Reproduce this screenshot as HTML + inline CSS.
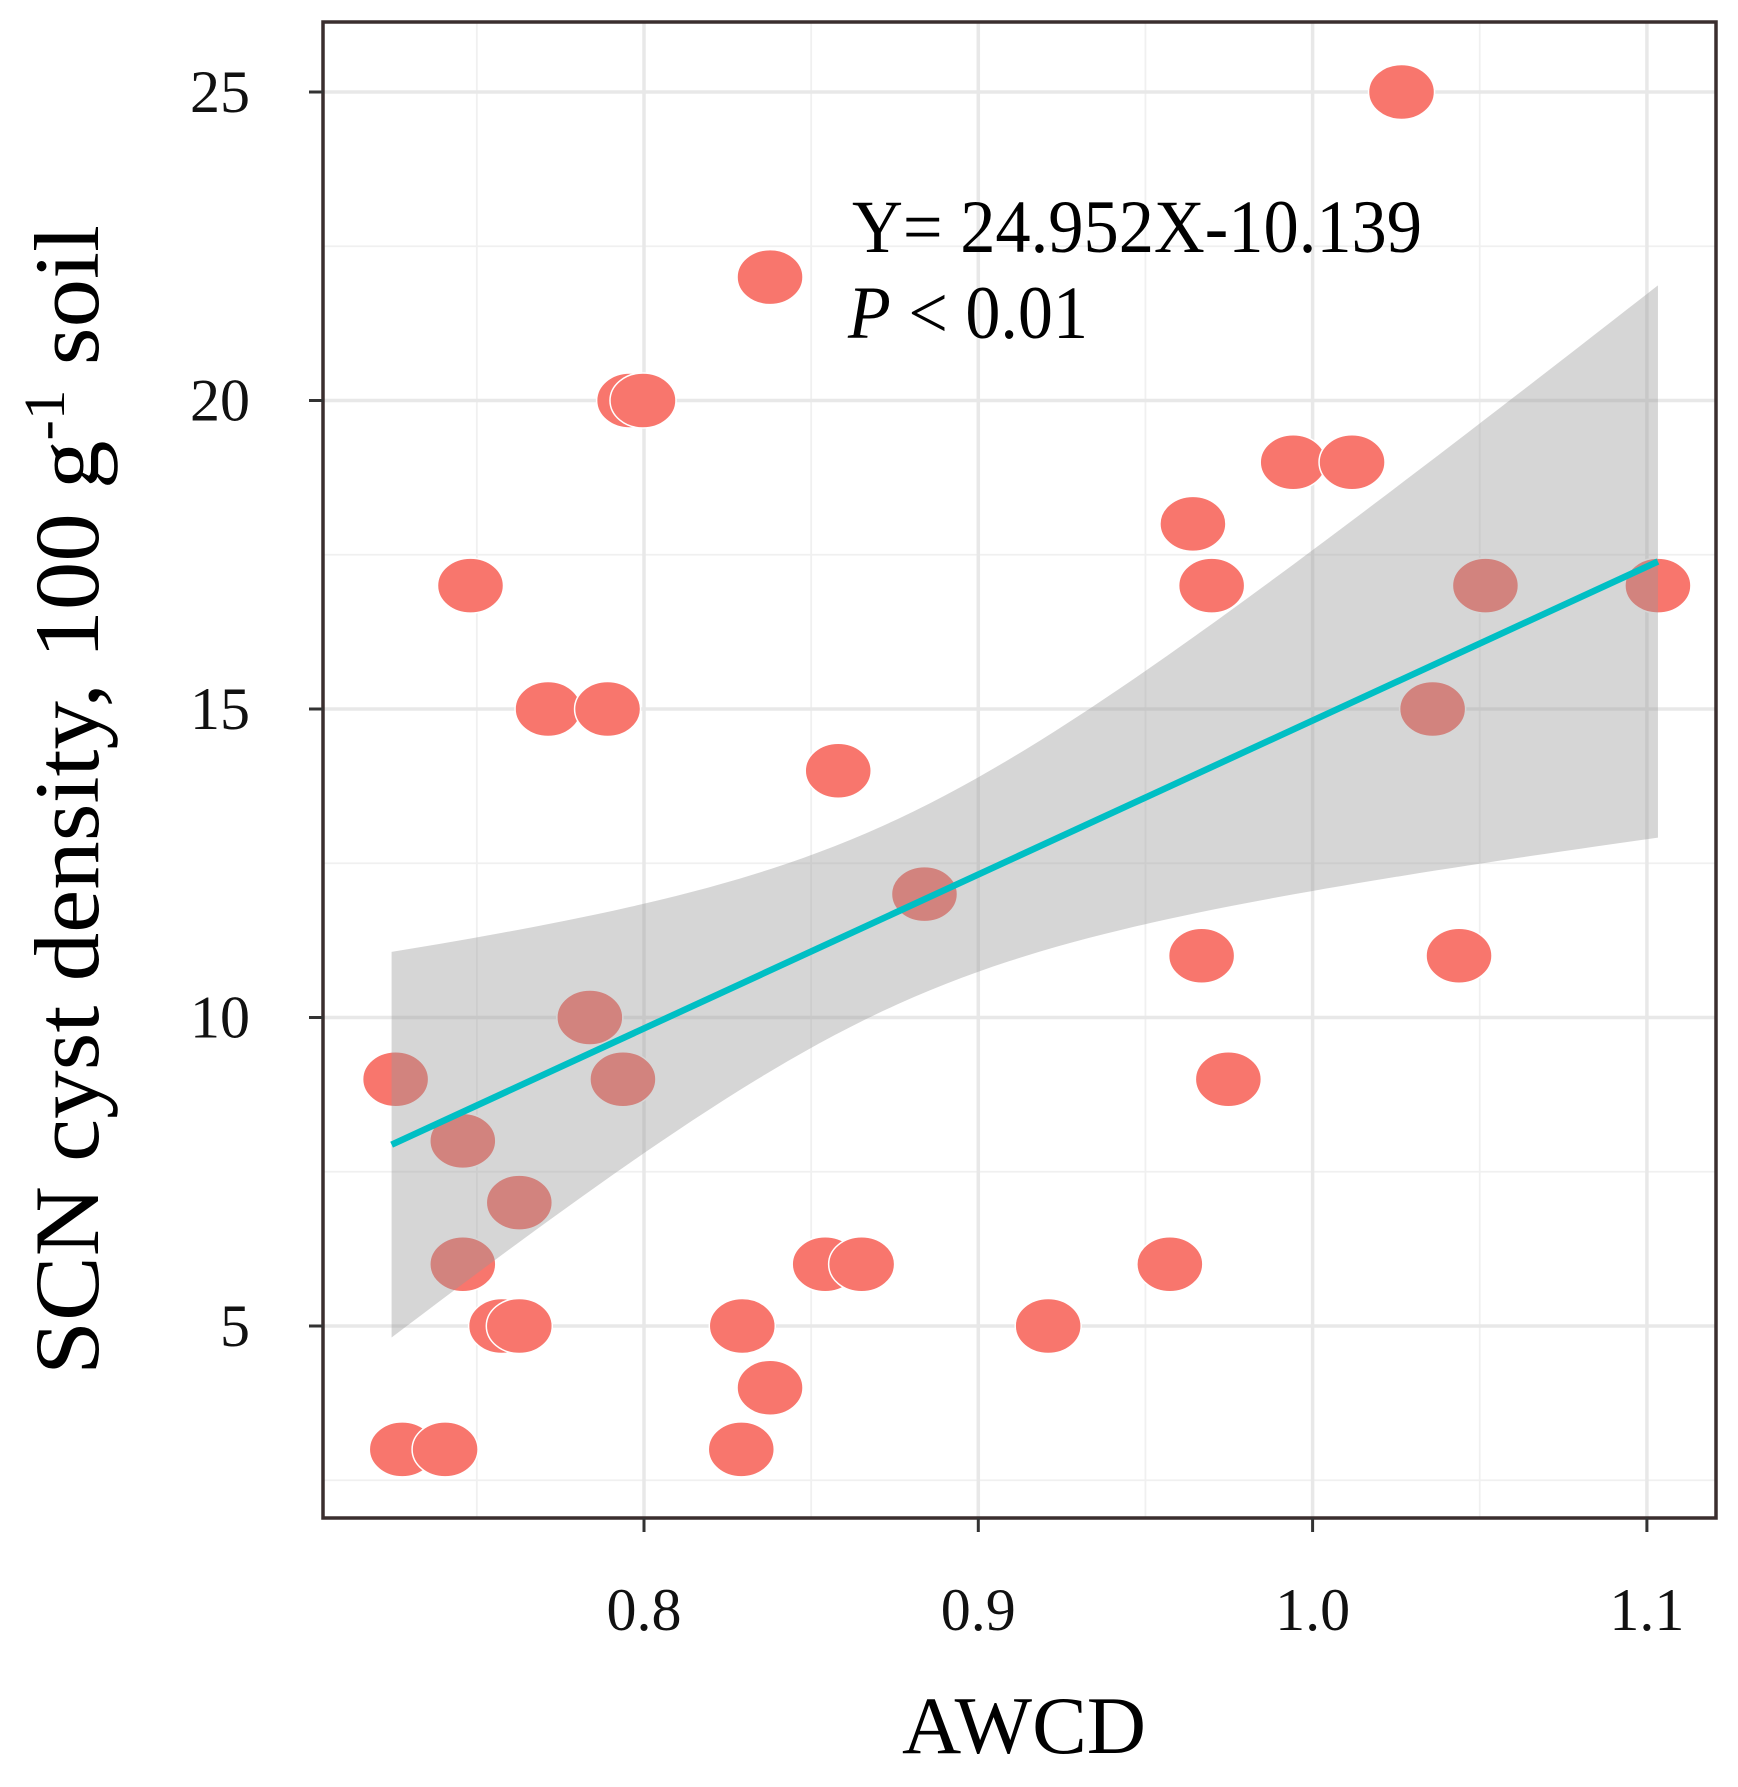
<!DOCTYPE html>
<html><head><meta charset="utf-8"><style>
html,body{margin:0;padding:0;background:#fff;}
svg{display:block;font-family:"Liberation Serif",serif;}
</style></head><body>
<svg id="chart" width="1738" height="1787" viewBox="0 0 1738 1787" xmlns="http://www.w3.org/2000/svg">
<g id="grid"></g>
<g id="points"></g>
<g id="fit"></g>
<rect x="323" y="22" width="1393" height="1496" fill="none" stroke="#3a2e2e" stroke-width="3.5"/>
<g id="axes"></g>
<text x="852" y="252" font-size="75" textLength="570" lengthAdjust="spacingAndGlyphs">Y= 24.952X-10.139</text>
<text x="848" y="338" font-size="75" textLength="240" lengthAdjust="spacingAndGlyphs"><tspan font-style="italic">P</tspan> &lt; 0.01</text>
<text x="1024" y="1753" font-size="82" text-anchor="middle">AWCD</text>
<text transform="translate(98,800) rotate(-90)" font-size="92" text-anchor="middle" textLength="1150" lengthAdjust="spacingAndGlyphs">SCN cyst density, 100 g<tspan font-size="58" dy="-34">-1</tspan><tspan dy="34"> soil</tspan></text>
</svg>
<script>
const xVals = [0.7257,0.7277,0.7405,0.7458,0.7458,0.7481,0.7574,0.7627,0.7627,0.7713,0.7838,0.7891,0.7937,0.7957,0.7997,0.8294,0.8291,0.8377,0.8377,0.8542,0.8581,0.8651,0.8839,0.9209,0.9573,0.9642,0.9668,0.9698,0.9748,0.9942,1.0118,1.0266,1.0359,1.0438,1.0517,1.1033];
const yVals = [9,3,3,8,6,17,5,5,7,15,10,15,9,20,20,5,3,22,4,6,14,6,12,5,6,18,11,17,9,19,19,25,15,11,17,17];
const xTicks = [0.8,0.9,1.0,1.1];
const xTickLabels = ["0.8","0.9","1.0","1.1"];
const yTicks = [5,10,15,20,25];
const yTickLabels = ["5","10","15","20","25"];
const xMinor = [0.75,0.85,0.95,1.05];
const yMinor = [2.5,7.5,12.5,17.5,22.5];
const slope = 24.952;
const intercept = -10.139;
const bandLeft = [0.7245, 4.75, 11.0];
const bandRight = [1.1033, 12.85, 21.8];
const bandMinHalfWidth = 1.5;

const NS = "http://www.w3.org/2000/svg";
const sx = v => 644 + (v - 0.8) * 3343;
const sy = v => 92 + (25 - v) * 61.7;
function mk(tag, attrs, parent){const e=document.createElementNS(NS,tag);for(const k in attrs)e.setAttribute(k,attrs[k]);parent.appendChild(e);return e;}
const grid=document.getElementById('grid'), pts=document.getElementById('points'), fit=document.getElementById('fit'), axes=document.getElementById('axes');

xMinor.forEach(v=>{const l=mk('line',{x1:sx(v),x2:sx(v),y1:22,y2:1518,stroke:'#f0f0f0','stroke-width':1.8},grid);

});
yMinor.forEach(v=>{const l=mk('line',{x1:323,x2:1716,y1:sy(v),y2:sy(v),stroke:'#f0f0f0','stroke-width':1.8},grid);

});
xTicks.forEach((v,i)=>{const l=mk('line',{x1:sx(v),x2:sx(v),y1:22,y2:1518,stroke:'#e8e8e8','stroke-width':3.5},grid);


const t=mk('line',{x1:sx(v),x2:sx(v),y1:1518,y2:1532,stroke:'#333','stroke-width':3},axes);


const tx=mk('text',{x:sx(v),y:1630,'font-size':60,'text-anchor':'middle',fill:'#111'},axes);tx.textContent=xTickLabels[i];

});
yTicks.forEach((v,i)=>{const l=mk('line',{x1:323,x2:1716,y1:sy(v),y2:sy(v),stroke:'#e8e8e8','stroke-width':3.5},grid);


const t=mk('line',{x1:309,x2:323,y1:sy(v),y2:sy(v),stroke:'#333','stroke-width':3},axes);


const tx=mk('text',{x:250,y:sy(v)+20,'font-size':60,'text-anchor':'end',fill:'#111'},axes);tx.textContent=yTickLabels[i];

});

xVals.forEach((x,i)=>{const c=mk('ellipse',{cx:sx(x),cy:sy(yVals[i]),rx:33,ry:27.5,fill:'#F8766D',stroke:'#fff','stroke-width':1.5},pts);

});

const x0=bandLeft[0], x1=bandRight[0];
const L2=((bandLeft[2]-bandLeft[1])/2)**2, R2=((bandRight[2]-bandRight[1])/2)**2, a=bandMinHalfWidth**2;
const rl=Math.sqrt(L2-a), rr=Math.sqrt(R2-a);
const m=(rr*x0+rl*x1)/(rl+rr);
const b=(L2-a)/((m-x0)**2);
const hw=x=>Math.sqrt(a+b*(x-m)**2);
const up=[],lo=[];
for(let k=0;k<=80;k++){const x=x0+(x1-x0)*k/80;const yc=slope*x+intercept;const h=hw(x);up.push(sx(x)+','+sy(yc+h));lo.push(sx(x)+','+sy(yc-h));}
const band=mk('polygon',{points:up.concat(lo.reverse()).join(' '),fill:'#999999','fill-opacity':0.4},fit);


const ln=mk('line',{x1:sx(x0),y1:sy(slope*x0+intercept),x2:sx(x1),y2:sy(slope*x1+intercept),stroke:'#00BFC4','stroke-width':6.5},fit);


</script>
</body></html>
